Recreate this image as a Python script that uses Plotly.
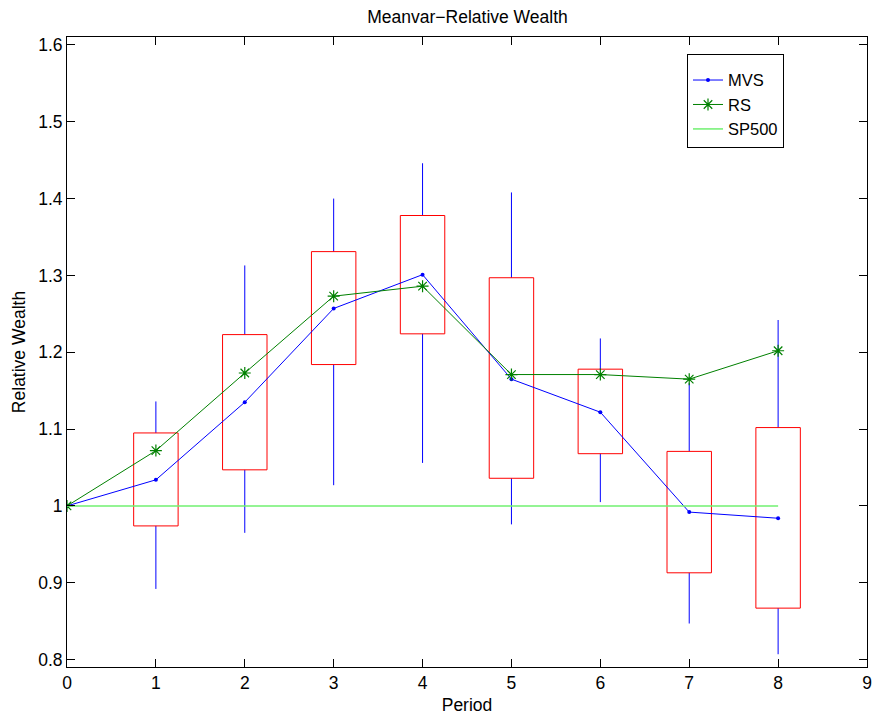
import plotly.graph_objects as go

periods = [0, 1, 2, 3, 4, 5, 6, 7, 8]
mvs = [1.0, 1.034, 1.135, 1.257, 1.301, 1.165, 1.122, 0.992, 0.984]
rs = [1.0, 1.072, 1.173, 1.273, 1.286, 1.171, 1.171, 1.165, 1.202]
sp500 = [1.0, 1.0, 1.0, 1.0, 1.0, 1.0, 1.0, 1.0, 1.0]

box_periods = [1, 2, 3, 4, 5, 6, 7, 8]
whisk_lo = [0.892, 0.965, 1.027, 1.056, 0.976, 1.005, 0.847, 0.807]
box_lo = [0.974, 1.047, 1.184, 1.224, 1.036, 1.068, 0.913, 0.867]
box_hi = [1.095, 1.223, 1.331, 1.378, 1.297, 1.178, 1.071, 1.102]
whisk_hi = [1.136, 1.313, 1.400, 1.446, 1.408, 1.218, 1.160, 1.242]

y_ticks = [0.8, 0.9, 1.0, 1.1, 1.2, 1.3, 1.4, 1.5, 1.6]
y_labels = ["0.8", "0.9", "1", "1.1", "1.2", "1.3", "1.4", "1.5", "1.6"]
x_ticks = [0, 1, 2, 3, 4, 5, 6, 7, 8, 9]

half_w = 0.25
FONT = "Liberation Sans, Arial, Helvetica, sans-serif"
FS = 17.5

fig = go.Figure()

# whiskers
wx, wy = [], []
for p, wl, bl, bh, wh in zip(box_periods, whisk_lo, box_lo, box_hi, whisk_hi):
    wx += [p, p, None, p, p, None]
    wy += [wl, bl, None, bh, wh, None]
fig.add_trace(go.Scatter(x=wx, y=wy, mode="lines", line=dict(color="#0000ff", width=1),
                         showlegend=False, hoverinfo="skip"))

# boxes
bx, by = [], []
for p, bl, bh in zip(box_periods, box_lo, box_hi):
    bx += [p - half_w, p + half_w, p + half_w, p - half_w, p - half_w, None]
    by += [bl, bl, bh, bh, bl, None]
fig.add_trace(go.Scatter(x=bx, y=by, mode="lines", line=dict(color="#ff0000", width=1),
                         showlegend=False, hoverinfo="skip"))

fig.add_trace(go.Scatter(x=periods, y=mvs, mode="lines+markers", name="MVS",
                         line=dict(color="#0000ff", width=1),
                         marker=dict(symbol="circle", size=4, color="#0000ff")))
fig.add_trace(go.Scatter(x=periods, y=rs, mode="lines+markers", name="RS",
                         line=dict(color="#008000", width=1),
                         marker=dict(symbol="asterisk", size=10,
                                     line=dict(color="#008000", width=1.2))))
fig.add_trace(go.Scatter(x=periods, y=sp500, mode="lines", name="SP500",
                         line=dict(color="#70f070", width=1.5)))

axis_common = dict(showline=True, linecolor="black", linewidth=1, mirror="allticks",
                   ticks="inside", ticklen=8, tickcolor="black", tickwidth=1,
                   showgrid=False, zeroline=False, automargin=False,
                   tickfont=dict(family=FONT, size=FS, color="black"))

fig.update_layout(
    width=875, height=717,
    margin=dict(l=67, r=8, t=37, b=50),
    paper_bgcolor="white", plot_bgcolor="white",
    title=dict(text="Meanvar\u2212Relative Wealth", x=467.5 / 875, xanchor="center",
               y=1 - 17 / 717, yanchor="middle",
               font=dict(family=FONT, size=FS, color="black")),
    xaxis=dict(range=[0, 9], tickvals=x_ticks,
               title=dict(text="Period", standoff=6,
                          font=dict(family=FONT, size=FS, color="black")),
               **axis_common),
    yaxis=dict(range=[0.7904, 1.6103], tickvals=y_ticks, ticktext=y_labels,
               title=dict(text="Relative Wealth", standoff=8,
                          font=dict(family=FONT, size=FS, color="black")),
               **axis_common),
    legend=dict(x=(687 - 67) / 800, y=(667 - 54) / 630, xanchor="left", yanchor="top",
                bgcolor="white", bordercolor="black", borderwidth=1,
                font=dict(family=FONT, size=16.5, color="black"),
                title=dict(text=" ", font=dict(family=FONT, size=6)),
                tracegroupgap=0, itemwidth=30),
    showlegend=True,
)

fig.write_html("out.html", config={"displayModeBar": False},
               post_script="document.body.style.margin='0px';")
